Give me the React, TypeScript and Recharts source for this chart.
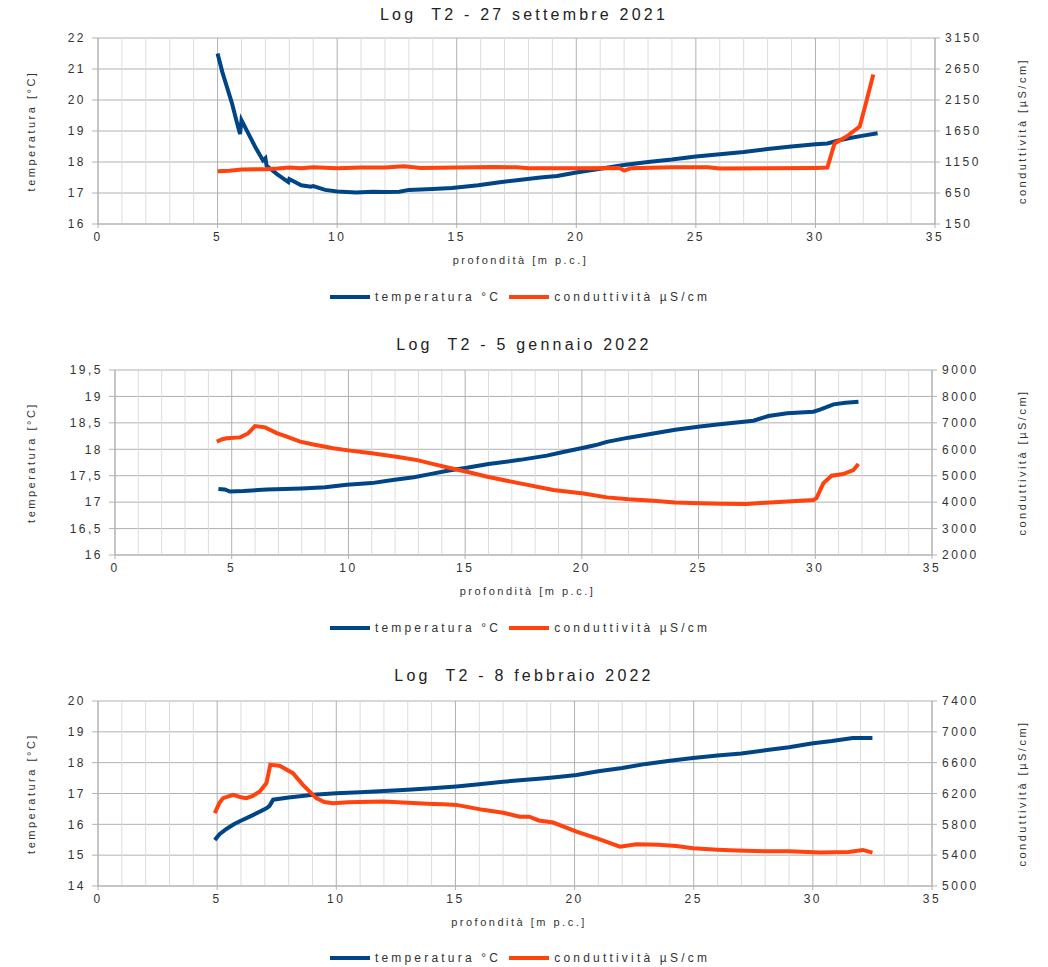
import { LineChart, Line, XAxis, YAxis, CartesianGrid, Legend, ReferenceLine } from 'recharts';

const BLUE = '#004586';
const ORANGE = '#ff420e';
const TEXT = '#333333';
const FONT = '"Liberation Sans", Arial, sans-serif';

const seriesNames = ['temperatura °C', 'conduttività µS/cm'];
const depthTicks = [0, 5, 10, 15, 20, 25, 30, 35];
const depthMinorTicks = [
  1, 2, 3, 4, 6, 7, 8, 9, 11, 12, 13, 14, 16, 17, 18, 19, 21, 22, 23, 24, 26, 27, 28, 29, 31, 32, 33, 34,
];

// --- 27 settembre 2021 ---
const sepTempDepth = [
  5.0, 5.2, 5.4, 5.6, 5.8, 5.94, 6.0, 6.3, 6.6, 6.9, 7.0, 7.05, 7.5, 7.96, 8.0, 8.5, 8.9, 9.0, 9.5, 10.0,
  10.8, 11.5, 12.0, 12.6, 13.0, 14.0, 14.8, 15.9, 16.8, 17.6, 18.5, 19.2, 20.0, 21.0, 22.0, 23.0, 24.0,
  25.0, 26.0, 27.0, 28.0, 29.0, 30.0, 30.5, 31.0, 31.5, 32.0, 32.6,
];
const sepTemp = [
  21.5, 20.9, 20.4, 19.9, 19.3, 18.9, 19.35, 18.9, 18.45, 18.05, 18.12, 17.88, 17.6, 17.35, 17.45, 17.25,
  17.2, 17.22, 17.1, 17.05, 17.02, 17.04, 17.03, 17.04, 17.1, 17.13, 17.16, 17.25, 17.35, 17.42, 17.5,
  17.55, 17.66, 17.78, 17.9, 18.0, 18.08, 18.18, 18.25, 18.32, 18.42, 18.5, 18.57, 18.6, 18.7, 18.78,
  18.85, 18.93,
];
const sepCondDepth = [
  5.0, 5.5, 6.0, 7.0, 7.5, 8.0, 8.5, 9.0, 10.0, 11.0, 12.0, 12.8, 13.5, 15.0, 16.5, 17.5, 18.0, 20.0,
  21.8, 22.0, 22.3, 24.0, 25.5, 26.0, 28.0, 30.0, 30.5, 30.8, 31.3, 31.85, 32.1, 32.42,
];
const sepCond = [
  1000, 1010, 1030, 1035, 1045, 1060, 1050, 1065, 1050, 1060, 1060, 1080, 1055, 1060, 1070, 1065, 1050,
  1050, 1055, 1010, 1050, 1065, 1065, 1045, 1050, 1055, 1060, 1450, 1560, 1720, 2080, 2560,
];

// --- 5 gennaio 2022 ---
const janTempDepth = [
  4.43, 4.7, 4.93, 5.5, 6.5, 8.0, 9.0, 9.93, 11.0, 11.9, 12.8, 13.5, 14.3, 15.07, 16.0, 17.35, 18.5, 19.2,
  20.07, 20.6, 21.07, 22.0, 23.06, 24.0, 25.06, 26.0, 27.35, 27.99, 28.8, 29.92, 30.2, 30.78, 31.3, 31.85,
];
const janTemp = [
  17.25, 17.24, 17.2, 17.21, 17.24, 17.26, 17.28, 17.33, 17.36, 17.42, 17.47, 17.53, 17.6, 17.65, 17.72,
  17.8, 17.88, 17.95, 18.03, 18.08, 18.14, 18.22, 18.3, 18.37, 18.43, 18.48, 18.54, 18.63, 18.68, 18.71,
  18.75, 18.85, 18.88, 18.9,
];
const janCondDepth = [
  4.36, 4.6, 4.78, 5.36, 5.7, 6.0, 6.43, 6.93, 7.36, 7.93, 8.5, 9.35, 10.07, 11.0, 12.2, 13.0, 13.64, 14.3,
  15.07, 16.0, 17.35, 18.78, 20.07, 21.07, 22.0, 23.06, 24.0, 25.06, 26.0, 27.06, 28.06, 29.0, 29.92, 30.05,
  30.35, 30.7, 31.2, 31.63, 31.85,
];
const janCond = [
  6290, 6380, 6420, 6450, 6600, 6880, 6830, 6610, 6480, 6290, 6180, 6040, 5950, 5850, 5700, 5580, 5440,
  5300, 5150, 4950, 4710, 4460, 4330, 4180, 4110, 4055, 3990, 3955, 3940, 3927, 3990, 4030, 4080, 4150,
  4720, 5000, 5064, 5216, 5443,
];

// --- 8 febbraio 2022 ---
const febTempDepth = [
  4.9, 5.1, 5.39, 5.7, 5.95, 6.5, 7.07, 7.2, 7.35, 8.0, 9.04, 10.0, 11.0, 12.0, 13.0, 14.0, 15.04, 16.0,
  17.0, 17.7, 18.5, 19.2, 20.08, 21.0, 22.0, 23.0, 24.0, 24.97, 26.0, 27.0, 28.0, 29.0, 29.94, 30.8, 31.68,
  32.5,
];
const febTemp = [
  15.49, 15.68, 15.85, 16.0, 16.1, 16.3, 16.52, 16.6, 16.8, 16.87, 16.96, 17.01, 17.04, 17.08, 17.12,
  17.17, 17.23, 17.3, 17.38, 17.43, 17.48, 17.53, 17.6, 17.72, 17.83, 17.96, 18.06, 18.15, 18.23, 18.3,
  18.4, 18.5, 18.62, 18.7, 18.8, 18.8,
];
const febCondDepth = [
  4.9, 5.1, 5.25, 5.67, 6.0, 6.23, 6.5, 6.79, 7.07, 7.23, 7.62, 8.18, 8.6, 9.16, 9.5, 9.86, 10.5, 11.96,
  13.0, 14.06, 14.5, 15.04, 16.16, 17.0, 17.7, 18.1, 18.5, 19.1, 20.08, 21.0, 21.9, 22.6, 23.5, 24.27,
  24.97, 26.0, 26.8, 28.0, 29.0, 30.3, 31.5, 32.1, 32.5,
];
const febCond = [
  5945, 6080, 6140, 6182, 6150, 6140, 6170, 6225, 6335, 6572, 6560, 6464, 6312, 6140, 6090, 6075, 6085,
  6095, 6080, 6065, 6060, 6052, 5988, 5950, 5900, 5900, 5850, 5823, 5706, 5610, 5510, 5541, 5535, 5520,
  5490, 5470, 5459, 5450, 5450, 5433, 5440, 5468, 5433,
];

const sepTempTicks = [16, 17, 18, 19, 20, 21, 22];
const sepCondTicks = [150, 650, 1150, 1650, 2150, 2650, 3150];
const janTempTicks = [16, 16.5, 17, 17.5, 18, 18.5, 19, 19.5];
const janCondTicks = [2000, 3000, 4000, 5000, 6000, 7000, 8000, 9000];
const febTempTicks = [14, 15, 16, 17, 18, 19, 20];
const febCondTicks = [5000, 5400, 5800, 6200, 6600, 7000, 7400];

const zip = (xs: number[], ys: number[]) => xs.map((x, i) => ({ depth: x, value: ys[i] }));

const tickStyle = { fontSize: 12, fill: TEXT, fontFamily: FONT, letterSpacing: 2.5 };
const labelStyle = { fontSize: 11, fill: TEXT, fontFamily: FONT, letterSpacing: 2.5, textAnchor: 'middle' as const };

const renderLegend = (props: any) => {
  const items = [...(props.payload || [])].sort(
    (a: any, b: any) => seriesNames.indexOf(a.value) - seriesNames.indexOf(b.value),
  );
  return (
    <div
      style={{
        display: 'flex',
        justifyContent: 'center',
        alignItems: 'center',
        fontFamily: FONT,
        fontSize: 12,
        letterSpacing: 3.2,
        color: TEXT,
        lineHeight: '14px',
      }}
    >
      {items.map((entry: any) => (
        <div key={entry.value} style={{ display: 'flex', alignItems: 'center', marginRight: 8 }}>
          <span style={{ display: 'inline-block', width: 40, height: 4, background: entry.color, marginRight: 5 }} />
          <span>{entry.value}</span>
        </div>
      ))}
    </div>
  );
};

interface PanelProps {
  top: number;
  height: number;
  margin: { top: number; right: number; bottom: number; left: number };
  leftWidth: number;
  rightWidth: number;
  title: string;
  titleTop: number;
  legendTop: number;
  tempTicks: number[];
  condTicks: number[];
  tempData: { depth: number; value: number }[];
  condData: { depth: number; value: number }[];
  comma?: boolean;
}

function Panel(p: PanelProps) {
  const fmt = (v: number) => (p.comma ? String(v).replace('.', ',') : String(v));
  return (
    <div style={{ position: 'absolute', left: 0, top: p.top, width: 1048, height: p.height }}>
      <div
        style={{
          position: 'absolute',
          left: 0,
          top: p.titleTop,
          width: 1048,
          textAlign: 'center',
          fontFamily: FONT,
          fontSize: 16,
          letterSpacing: 3.2,
          color: '#222',
          whiteSpace: 'pre',
          lineHeight: '18px',
          zIndex: 2,
        }}
      >
        {p.title}
      </div>
      <LineChart width={1048} height={p.height} margin={p.margin}>
        <XAxis
          dataKey="depth"
          type="number"
          domain={[0, 35]}
          ticks={depthTicks}
          height={40}
          tick={tickStyle}
          tickSize={4}
          tickMargin={4}
          stroke="#b3b3b3"
          label={{ value: 'profondità [m p.c.]', position: 'insideBottom', offset: 0, style: labelStyle, dx: 4 }}
        />
        <YAxis
          yAxisId="left"
          orientation="left"
          width={p.leftWidth}
          domain={[p.tempTicks[0], p.tempTicks[p.tempTicks.length - 1]]}
          ticks={p.tempTicks}
          interval={0}
          tick={tickStyle}
          tickFormatter={fmt}
          tickSize={6}
          tickMargin={6}
          stroke="#b3b3b3"
          allowDataOverflow
          label={{ value: 'temperatura [°C]', angle: -90, position: 'insideLeft', offset: 31, style: labelStyle }}
        />
        <YAxis
          yAxisId="right"
          orientation="right"
          width={p.rightWidth}
          domain={[p.condTicks[0], p.condTicks[p.condTicks.length - 1]]}
          ticks={p.condTicks}
          interval={0}
          tick={tickStyle}
          tickSize={5}
          tickMargin={5}
          stroke="#b3b3b3"
          allowDataOverflow
          label={{ value: 'conduttività [µS/cm]', angle: -90, position: 'insideRight', offset: 26, style: labelStyle }}
        />
        {/* 1 m minor grid */}
        {depthMinorTicks.map((t) => (
          <ReferenceLine key={t} x={t} yAxisId="left" stroke="#dcdcdc" strokeWidth={1} />
        ))}
        <CartesianGrid yAxisId="left" stroke="#b0b0b0" />
        <Legend
          layout="horizontal"
          verticalAlign="middle"
          align="center"
          wrapperStyle={{ top: p.legendTop, left: 0, width: 1048 }}
          content={renderLegend}
        />
        <Line
          yAxisId="left"
          data={p.tempData}
          dataKey="value"
          name={seriesNames[0]}
          stroke={BLUE}
          strokeWidth={4}
          dot={false}
          type="linear"
          isAnimationActive={false}
        />
        <Line
          yAxisId="right"
          data={p.condData}
          dataKey="value"
          name={seriesNames[1]}
          stroke={ORANGE}
          strokeWidth={4}
          dot={false}
          type="linear"
          isAnimationActive={false}
        />
      </LineChart>
    </div>
  );
}

export default function App() {
  return (
    <div style={{ position: 'absolute', left: 0, top: 0, width: 1048, height: 967, background: '#fff' }}>
      <Panel
        top={0}
        height={320}
        margin={{ top: 38, right: 0, bottom: 56, left: 0 }}
        leftWidth={98}
        rightWidth={113}
        title="Log  T2 - 27 settembre 2021"
        titleTop={6}
        legendTop={290}
        tempTicks={sepTempTicks}
        condTicks={sepCondTicks}
        tempData={zip(sepTempDepth, sepTemp)}
        condData={zip(sepCondDepth, sepCond)}
      />
      <Panel
        top={330}
        height={320}
        margin={{ top: 40, right: 0, bottom: 55, left: 0 }}
        leftWidth={115}
        rightWidth={116}
        title="Log  T2 - 5 gennaio 2022"
        titleTop={6}
        legendTop={291}
        tempTicks={janTempTicks}
        condTicks={janCondTicks}
        tempData={zip(janTempDepth, janTemp)}
        condData={zip(janCondDepth, janCond)}
        comma
      />
      <Panel
        top={660}
        height={307}
        margin={{ top: 41, right: 0, bottom: 41, left: 0 }}
        leftWidth={98}
        rightWidth={116}
        title="Log  T2 - 8 febbraio 2022"
        titleTop={7}
        legendTop={291}
        tempTicks={febTempTicks}
        condTicks={febCondTicks}
        tempData={zip(febTempDepth, febTemp)}
        condData={zip(febCondDepth, febCond)}
      />
    </div>
  );
}
